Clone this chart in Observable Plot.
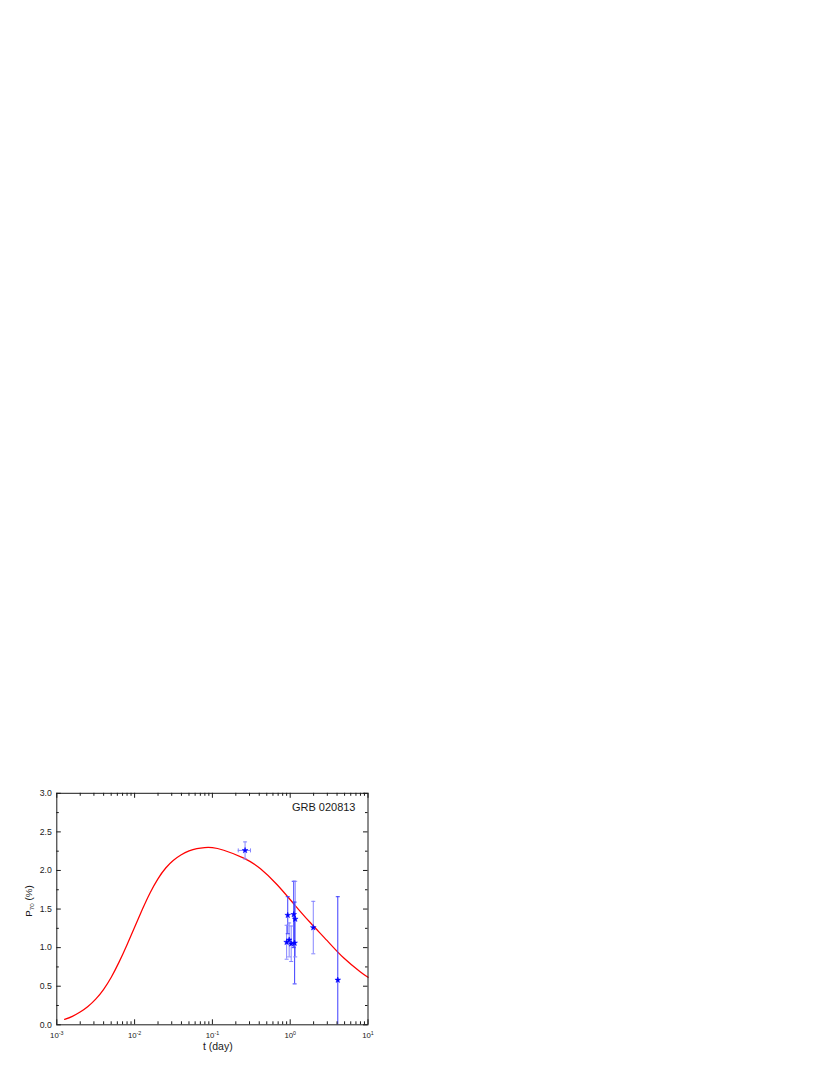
<!DOCTYPE html>
<html>
<head>
<meta charset="utf-8">
<script src="https://cdn.jsdelivr.net/npm/d3@7"></script>
<script src="https://cdn.jsdelivr.net/npm/@observablehq/plot@0.6"></script>
<style>
  html, body { margin: 0; padding: 0; background: #fff; }
  svg { display: block; }
</style>
</head>
<body>
<div id="chart"></div>
<script>
// ---- data ----
const chartTitle = "GRB 020813";
const xLabel = "t (day)";

// model curve
const curveT = [0.001259, 0.001585, 0.001995, 0.002512, 0.003162, 0.003981, 0.005012, 0.00631, 0.007943, 0.01, 0.01259, 0.01585, 0.01995, 0.02512, 0.03162, 0.03981, 0.05012, 0.0631, 0.07943, 0.1, 0.140, 0.253, 0.415, 0.68, 1.11, 1.82, 2.99, 4.89, 8.0, 10.0];
const curveP = [0.07, 0.11, 0.165, 0.237, 0.332, 0.457, 0.617, 0.812, 1.032, 1.265, 1.497, 1.712, 1.892, 2.032, 2.132, 2.204, 2.254, 2.284, 2.297, 2.296, 2.262, 2.16, 2.022, 1.815, 1.568, 1.322, 1.09, 0.865, 0.685, 0.615];

// observations
const obsT   = [0.263, 0.93, 1.11, 1.16, 0.90, 0.97, 1.03, 1.14, 1.98, 4.09];
const obsP   = [2.26, 1.42, 1.43, 1.37, 1.07, 1.10, 1.05, 1.06, 1.26, 0.58];
const obsErr = [0.11, 0.24, 0.43, 0.49, 0.22, 0.22, 0.23, 0.53, 0.34, 1.08];
const obsSet = ["B", "A", "A", "B", "B", "B", "B", "A", "B", "A"];
// horizontal error bar (first observation)
const obsTLo = [0.215];
const obsTHi = [0.309];
const obsXErrIdx = [0];

// ticks
const xMajor = [1e-3, 1e-2, 1e-1, 1, 10];
const xMinor = [];
for (const dec of [1e-3, 1e-2, 1e-1, 1]) for (const m of [2,3,4,5,6,7,8,9]) xMinor.push(dec * m);
const yMajor = [0, 0.5, 1.0, 1.5, 2.0, 2.5, 3.0];
const yMinor = [0.25, 0.75, 1.25, 1.75, 2.25, 2.75];

// ---- tables built from the arrays ----
const curve = curveT.map((t, i) => ({t, p: curveP[i]}));
const obs = obsT.map((t, i) => ({t, p: obsP[i], e: obsErr[i], set: obsSet[i]}));
const xerr = obsXErrIdx.map((k, i) => ({p: obsP[k], lo: obsTLo[i], hi: obsTHi[i], set: obsSet[k]}));

// ---- layout ----
const W = 830, H = 1075;
const mL = 56.3, mR = 462.5, mT = 792.8, mB = 50.7;
const innerW = W - mL - mR, innerH = H - mT - mB;
const ink = "#1a1a1a";

const hcap = {draw(ctx, size) { const r = Math.sqrt(size / Math.PI); ctx.moveTo(-r, 0); ctx.lineTo(r, 0); }};
const vcap = {draw(ctx, size) { const r = Math.sqrt(size / Math.PI); ctx.moveTo(0, -r); ctx.lineTo(0, r); }};

const plot = Plot.plot({
  width: W, height: H,
  marginLeft: mL, marginRight: mR, marginTop: mT, marginBottom: mB,
  style: {fontFamily: "'Liberation Sans', Arial, sans-serif", background: "#fff", color: ink},
  x: {type: "log", domain: [1e-3, 10]},
  y: {domain: [0, 3]},
  color: {type: "ordinal", domain: ["A", "B"], range: ["#3d3dff", "#8585ff"]},
  marks: [
    // model curve
    Plot.line(curve, {x: "t", y: "p", stroke: "#ff0000", strokeWidth: 1.25, curve: "natural"}),
    // vertical error bars
    Plot.ruleX(obs, {x: "t", y1: d => d.p - d.e, y2: d => d.p + d.e, stroke: "set", strokeWidth: 1, clip: true}),
    Plot.dot(obs, {x: "t", y: d => d.p + d.e, symbol: hcap, r: 2, fill: "none", stroke: "set", strokeWidth: 1}),
    Plot.dot(obs.filter(d => d.p - d.e >= 0), {x: "t", y: d => d.p - d.e, symbol: hcap, r: 2, fill: "none", stroke: "set", strokeWidth: 1}),
    // horizontal error bar
    Plot.ruleY(xerr, {y: "p", x1: "lo", x2: "hi", stroke: "set", strokeWidth: 1}),
    Plot.dot(xerr, {x: "lo", y: "p", symbol: vcap, r: 2, fill: "none", stroke: "set", strokeWidth: 1}),
    Plot.dot(xerr, {x: "hi", y: "p", symbol: vcap, r: 2, fill: "none", stroke: "set", strokeWidth: 1}),
    // points
    Plot.dot(obs, {x: "t", y: "p", symbol: "star", r: 1.8, fill: "#0000ff", stroke: "#0000ff", strokeWidth: 0.5}),
    // frame + inward ticks
    Plot.frame({stroke: ink, strokeWidth: 1}),
    Plot.ruleX(xMajor, {insetTop: innerH - 5, stroke: ink}),
    Plot.ruleX(xMinor, {insetTop: innerH - 3, stroke: ink}),
    Plot.ruleX(xMajor, {insetBottom: innerH - 5, stroke: ink}),
    Plot.ruleX(xMinor, {insetBottom: innerH - 3, stroke: ink}),
    Plot.ruleY(yMajor, {insetRight: innerW - 4.5, stroke: ink}),
    Plot.ruleY(yMinor, {insetRight: innerW - 2.5, stroke: ink}),
    Plot.ruleY(yMajor, {insetLeft: innerW - 4.5, stroke: ink}),
    Plot.ruleY(yMinor, {insetLeft: innerW - 2.5, stroke: ink}),
    // tick labels
    Plot.axisY({ticks: yMajor, tickSize: 0, tickPadding: 5, tickFormat: d3.format(".1f"), fontSize: 8.7, label: null}),
    Plot.axisX({ticks: xMajor, tickSize: 0, tickPadding: 8, tickFormat: d => "10^" + Math.round(Math.log10(d)), fontSize: 7.8, label: null}),
    // title in plot
    Plot.text([chartTitle], {frameAnchor: "top-right", text: d => d, dx: -12.5, dy: 10.1, textAnchor: "end", lineAnchor: "top", fontSize: 11, fill: ink})
  ]
});

document.getElementById("chart").appendChild(plot);

const svg = d3.select(plot);
// superscript exponents on x tick labels
svg.selectAll('g[aria-label="x-axis tick label"] text').each(function() {
  const s = this.textContent;
  if (!s.includes("^")) return;
  const [b, e] = s.split("^");
  const t = d3.select(this);
  t.text(null);
  t.append("tspan").text(b);
  t.append("tspan").attr("font-size", 5.3).attr("dy", "-3.3").text(e);
});

// y axis label with subscript
const yl = svg.append("text")
  .attr("transform", "translate(31.8,901) rotate(-90)")
  .attr("text-anchor", "middle")
  .attr("font-size", 9.8)
  .attr("fill", ink);
yl.append("tspan").text("P");
yl.append("tspan").attr("font-size", 6.2).attr("dy", 2.3).text("70");
yl.append("tspan").attr("dy", -2.3).text(" (%)");

// x axis label
svg.append("text")
  .attr("x", 217.8).attr("y", 1049.5)
  .attr("text-anchor", "middle")
  .attr("font-size", 10.5)
  .attr("fill", ink)
  .text(xLabel);
</script>
</body>
</html>
